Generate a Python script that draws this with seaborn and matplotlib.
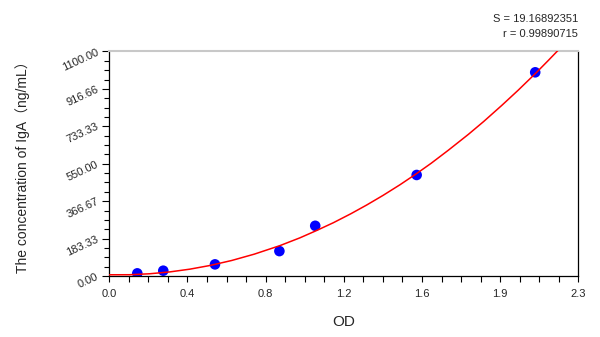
import matplotlib
matplotlib.use("Agg")
import matplotlib.pyplot as plt
from matplotlib.ticker import AutoMinorLocator, FixedLocator
import seaborn as sns
import pandas as pd
import numpy as np

# measured standards
od_values = [0.139, 0.268, 0.525, 0.845, 1.023, 1.527, 2.116]
conc_values = [13, 26, 57, 122, 246, 495, 998]

# fitted curve
curve_x = [0.0, 0.1, 0.2, 0.3, 0.4, 0.5, 0.608, 0.72, 0.848, 0.947, 1.03, 1.113,
           1.2, 1.279, 1.36, 1.444, 1.527, 1.6, 1.684, 1.784, 1.86, 1.95, 2.03,
           2.12, 2.18, 2.231]
curve_y = [6, 6.2, 10.9, 20, 33.5, 51.5, 76, 107, 149, 187, 223, 261,
           305, 348, 395, 447, 502, 553, 616, 694, 757, 836, 909,
           995, 1055, 1107]

x_tick_labels = ["0.0", "0.4", "0.8", "1.2", "1.6", "1.9", "2.3"]
y_tick_labels = ["0.00", "183.33", "366.67", "550.00", "733.33", "916.66", "1100.00"]
x_max = 2.33
y_max = 1100.0
stats_lines = ["S = 19.16892351", "r = 0.99890715"]

sns.set_style("white")
plt.rcParams["font.family"] = ["Liberation Sans", "Noto Sans CJK SC", "DejaVu Sans"]

fig = plt.figure(figsize=(6, 3.37), dpi=100)
ax = fig.add_axes([0.1822, 0.181, 0.9638 - 0.1822, 0.8472 - 0.181])

pts = pd.DataFrame({"OD": od_values, "conc": conc_values})
curve = pd.DataFrame({"OD": curve_x, "conc": curve_y})

sns.lineplot(data=curve, x="OD", y="conc", ax=ax, color="#ff0000", linewidth=1.1,
             sort=False, estimator=None, zorder=3)
sns.scatterplot(data=pts, x="OD", y="conc", ax=ax, color="#0000ff", s=58,
                edgecolor="none", zorder=2)

ax.set_xlim(0, x_max)
ax.set_ylim(0, y_max)

ax.xaxis.set_major_locator(FixedLocator(np.linspace(0, x_max, len(x_tick_labels))))
ax.set_xticklabels(x_tick_labels, fontsize=8)
ax.yaxis.set_major_locator(FixedLocator(np.linspace(0, y_max, len(y_tick_labels))))
ax.set_yticklabels(y_tick_labels, fontsize=8, rotation=25, ha="right",
                   va="center", rotation_mode="anchor")
ax.xaxis.set_minor_locator(AutoMinorLocator(4))
ax.yaxis.set_minor_locator(AutoMinorLocator(4))

ax.tick_params(axis="x", which="both", direction="out", length=4, width=0.8,
               color="black", bottom=True, pad=5)
ax.tick_params(axis="y", which="major", direction="out", length=5, width=0.8,
               color="black", left=True, pad=3)
ax.tick_params(axis="y", which="minor", direction="out", length=3.5, width=0.8,
               color="black", left=True)

for side in ["left", "bottom", "right"]:
    ax.spines[side].set_color("black")
    ax.spines[side].set_linewidth(0.9)
    ax.spines[side].set_visible(True)
ax.spines["top"].set_color("#c8c8c8")
ax.spines["top"].set_linewidth(1.5)
ax.spines["top"].set_visible(True)

ax.set_xlabel("OD", fontsize=11, labelpad=12)
ax.set_ylabel("The concentration of IgA\uff08ng/mL\uff09", fontsize=10, labelpad=22)
ax.grid(False)

fig.text(0.9638, 0.945, stats_lines[0], ha="right", va="center", fontsize=8)
fig.text(0.9638, 0.900, stats_lines[1], ha="right", va="center", fontsize=8)

fig.savefig("out.png", dpi=100)
